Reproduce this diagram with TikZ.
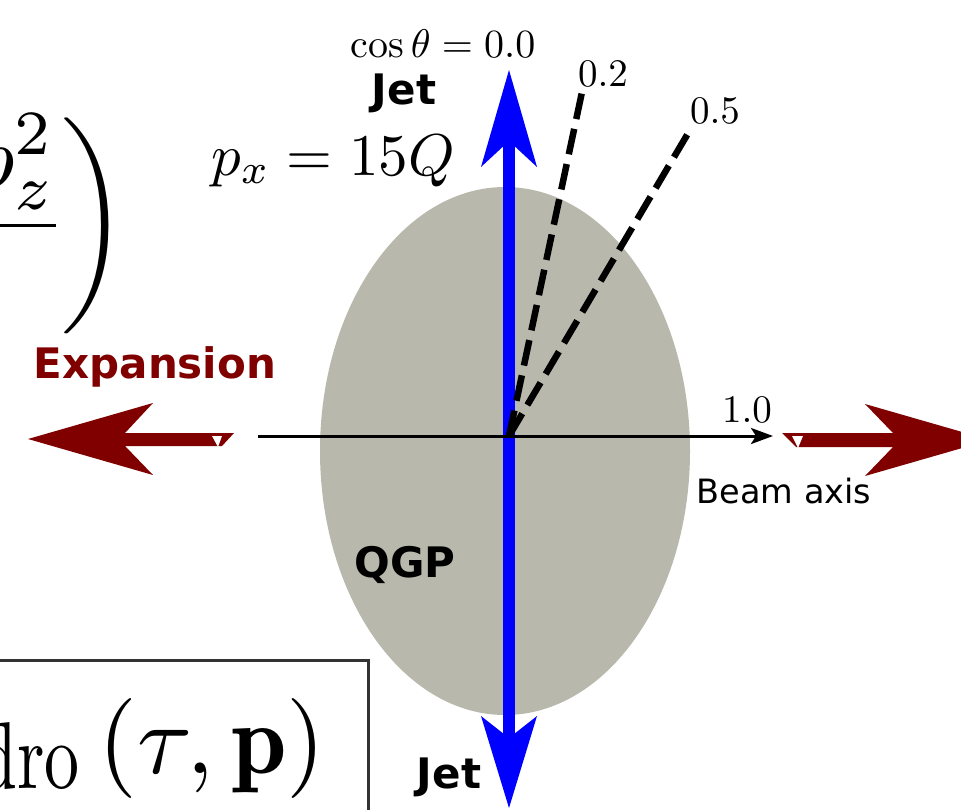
\documentclass[tikz,border=0pt]{standalone}
\usepackage{fontspec}
\usepackage{graphicx}
\newfontfamily\dvs{DejaVu Sans}
\usetikzlibrary{arrows.meta}
\definecolor{qgpgray}{RGB}{184,185,172}
\definecolor{expred}{RGB}{128,0,0}
\definecolor{jetblue}{RGB}{0,0,255}
\definecolor{boxgray}{RGB}{51,51,51}
\tikzset{
  lbl/.style={inner sep=0pt, anchor=base},
  boldlbl/.style={lbl, font={\dvs\bfseries\fontsize{42}{50}\selectfont}},
  plainlbl/.style={lbl, font={\dvs\fontsize{33.5}{40}\selectfont}},
  dashline/.style={line width=6.5pt, dash pattern=on 26pt off 10pt},
  redarrow/.style={fill=expred, draw=none},
  bluehead/.style={fill=jetblue, draw=none},
}
\begin{document}
\begin{tikzpicture}[x=1pt, y=-1pt]
\useasboundingbox (0,0) rectangle (961,809);
\clip (0,0) rectangle (961,809);

% partial formula, top left
\node[inner sep=0pt, anchor=base east] (frac) at (128,248)
  {\scalebox{9}{$\displaystyle\frac{p_z^2}{\hphantom{p_z^2}}\kern-0.6pt\biggr)$}};

% partial boxed formula, bottom left
\draw[boxgray, line width=3pt] (-20,660) -- (368,660) -- (368,830);
\node[inner sep=0pt, anchor=base east] (hydro) at (326,773)
  {\scalebox{10}{$\raisebox{-1.5pt}{\scalebox{0.7}[0.95]{$\mathrm{hydro}$}}\kern1.9pt(\tau,\mathbf{p})$}};

% QGP ellipse
\fill[qgpgray] (505,451) ellipse [x radius=185, y radius=264];

% coordinates
\coordinate (O) at (509,436);
\coordinate (axL) at (258,436);
\coordinate (axR) at (773,436);
\coordinate (d2) at (582,92);
\coordinate (d5) at (690,130);

% blue jet arrows
\fill[jetblue] (503,141) rectangle (515,738);
\fill[bluehead] (509,70) -- (537,167) -- (509,141) -- (481,167) -- cycle;
\fill[bluehead] (509,808) -- (537,716) -- (509,738) -- (481,716) -- cycle;

% beam axis
\draw[line width=3pt, -{Stealth[length=22pt,width=16pt,inset=5pt]}] (axL) -- (axR);

% dashed cos theta lines
\draw[dashline] (O) -- (d2);
\draw[dashline] (O) -- (d5);

% expansion arrows
\fill[redarrow] (28,439) -- (153,403) -- (125,433) -- (234,433) -- (222,446)
  -- (125,446) -- (153,475) -- cycle;
\fill[white] (212,436) -- (222,436) -- (218,447) -- cycle;
\fill[redarrow] (990,440) -- (865,404) -- (893,433) -- (782,433) -- (796,447)
  -- (893,447) -- (865,476) -- cycle;
\fill[white] (792,436) -- (803,436) -- (798,448) -- cycle;

% labels
\node[lbl] (cos) at (443,57) {\scalebox{4}{$\cos\theta=0.0$}};
\node[boldlbl] (jettop) at (404,104) {Jet};
\node[lbl] (px) at (333,175) {\scalebox{5.9}{$p_x=15Q$}};
\node[lbl] (l02) at (603,86) {\scalebox{3.9}{$0.2$}};
\node[lbl] (l05) at (715,123) {\scalebox{3.9}{$0.5$}};
\node[lbl] (l10) at (747,422) {\scalebox{3.9}{$1.0$}};
\node[plainlbl] (beam) at (784,503) {Beam axis};
\node[boldlbl, text=expred] (exp) at (155,378) {Expansion};
\node[boldlbl] (qgp) at (405,577) {QGP};
\node[boldlbl] (jetbot) at (449,788) {Jet};
\end{tikzpicture}
\end{document}
